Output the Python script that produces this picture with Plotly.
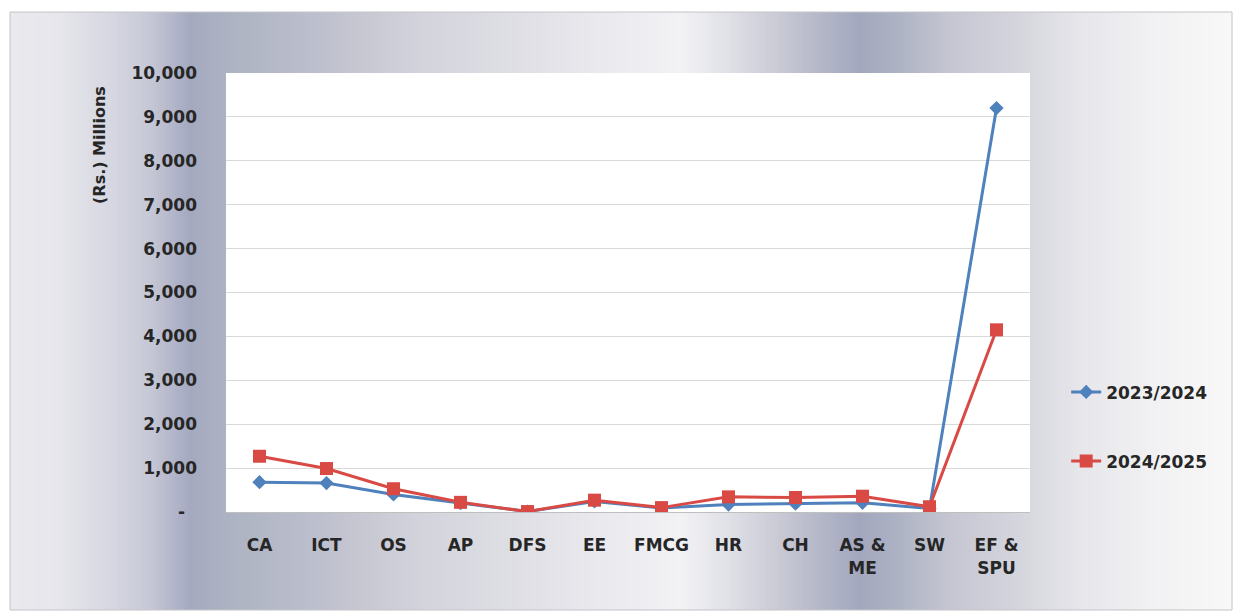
import plotly.graph_objects as go

# Sector labels along the x-axis
categories = ["CA", "ICT", "OS", "AP", "DFS", "EE", "FMCG", "HR", "CH",
              "AS &<br>ME", "SW", "EF &<br>SPU"]

# Values in Rs. millions
values_2023_24 = [680, 660, 400, 200, 10, 240, 90, 170, 190, 210, 80, 9200]
values_2024_25 = [1270, 990, 530, 220, 10, 270, 100, 345, 330, 360, 120, 4150]

series_names = ["2023/2024", "2024/2025"]

y_tick_values = [0, 1000, 2000, 3000, 4000, 5000, 6000, 7000, 8000, 9000, 10000]
y_tick_labels = ["-\u2007", "1,000", "2,000", "3,000", "4,000", "5,000",
                 "6,000", "7,000", "8,000", "9,000", "10,000"]

# ---- canvas geometry (pixels) ----
W, H = 1236, 616
PL, PR, PT, PB = 226, 1030, 73, 512          # plot area edges
FRAME = (10, 12, 1232, 610)                   # outer chart frame

def px_x(p):
    return (p - PL) / (PR - PL)

def px_y(p):
    return (PB - p) / (PB - PT)

# horizontal metallic gradient of the chart area: (pixel x, colour)
grad_stops = [
    (10, "#e9e9ee"), (60, "#e6e6ec"), (110, "#d6d7e1"), (150, "#c6c8d6"),
    (190, "#a5a9c0"), (230, "#adb3c2"), (300, "#b9bccb"), (350, "#c5c5d1"),
    (420, "#d3d3dc"), (520, "#dfdfe5"), (600, "#e9e9ee"), (680, "#f2f2f5"),
    (730, "#dfdfe7"), (780, "#c9c9d5"), (820, "#b4b7c7"), (860, "#a3a7be"),
    (900, "#aeb3c4"), (950, "#c5c6d2"), (1020, "#d5d5dd"), (1080, "#e6e6eb"),
    (1150, "#f1f1f3"), (1232, "#f8f8f8"),
]

def hex_rgb(h):
    h = h.lstrip("#")
    return tuple(int(h[i:i + 2], 16) for i in (0, 2, 4))

def colour_at(x):
    for (x0, c0), (x1, c1) in zip(grad_stops[:-1], grad_stops[1:]):
        if x0 <= x <= x1:
            t = (x - x0) / (x1 - x0)
            a, b = hex_rgb(c0), hex_rgb(c1)
            r = [round(a[i] + (b[i] - a[i]) * t) for i in range(3)]
            return f"rgb({r[0]},{r[1]},{r[2]})"
    return grad_stops[-1][1]

shapes = []
step = 3
x = FRAME[0]
while x < FRAME[2]:
    x2 = min(x + step, FRAME[2])
    shapes.append(dict(
        type="rect", xref="paper", yref="paper", layer="below",
        x0=px_x(x), x1=px_x(x2 + 0.6), y0=px_y(FRAME[3]), y1=px_y(FRAME[1]),
        line=dict(width=0), fillcolor=colour_at((x + x2) / 2),
    ))
    x = x2

# frame border
shapes.append(dict(
    type="rect", xref="paper", yref="paper", layer="below",
    x0=px_x(FRAME[0]), x1=px_x(FRAME[2]), y0=px_y(FRAME[3]), y1=px_y(FRAME[1]),
    line=dict(width=1, color="#c4c4c8"), fillcolor="rgba(0,0,0,0)",
))
# white plot area on top of the gradient
shapes.append(dict(
    type="rect", xref="x domain", yref="y domain", layer="below",
    x0=0, x1=1, y0=0, y1=1, line=dict(width=0), fillcolor="white",
))

BLUE = "#4f81bd"
RED = "#d94a45"
TEXT = "#262626"
FONT = "DejaVu Sans"

fig = go.Figure()
fig.add_trace(go.Scatter(
    x=categories, y=values_2023_24, name=series_names[0], legendgroup="a",
    mode="lines+markers",
    line=dict(color=BLUE, width=3),
    marker=dict(symbol="diamond", size=11, color=BLUE),
))
fig.add_trace(go.Scatter(
    x=categories, y=values_2024_25, name=series_names[1], legendgroup="b",
    mode="lines+markers",
    line=dict(color=RED, width=3),
    marker=dict(symbol="square", size=13, color=RED),
))

fig.update_layout(
    width=W, height=H,
    margin=dict(l=PL, r=W - PR, t=PT, b=H - PB, pad=0),
    paper_bgcolor="white",
    plot_bgcolor="white",
    shapes=shapes,
    font=dict(family=FONT, size=17, color=TEXT, weight="bold"),
    showlegend=True,
    legend=dict(
        x=1.045, xanchor="left", y=0.194, yanchor="middle",
        bgcolor="rgba(0,0,0,0)", borderwidth=0,
        tracegroupgap=44,
        font=dict(family=FONT, size=17, color=TEXT, weight="bold"),
    ),
    annotations=[dict(
        text="(Rs.) Millions", xref="paper", yref="paper",
        x=px_x(100), y=px_y(145), xanchor="center", yanchor="middle",
        textangle=-90, showarrow=False,
        font=dict(family=FONT, size=16, color=TEXT, weight="bold"),
    )],
)

fig.update_xaxes(
    type="category", range=[-0.5, len(categories) - 0.5],
    showgrid=False, zeroline=False,
    showline=True, linecolor="#bfbfbf", linewidth=1,
    ticks="", ticklabelstandoff=18,
    tickfont=dict(family=FONT, size=17, color=TEXT, weight="bold"),
)
fig.update_yaxes(
    range=[0, 10000], tickvals=y_tick_values, ticktext=y_tick_labels,
    showgrid=True, gridcolor="#d9d9d9", gridwidth=1,
    zeroline=False, showline=False, ticks="", ticklabelstandoff=28,
    tickfont=dict(family=FONT, size=17, color=TEXT, weight="bold"),
)

fig.write_html("out.html")
